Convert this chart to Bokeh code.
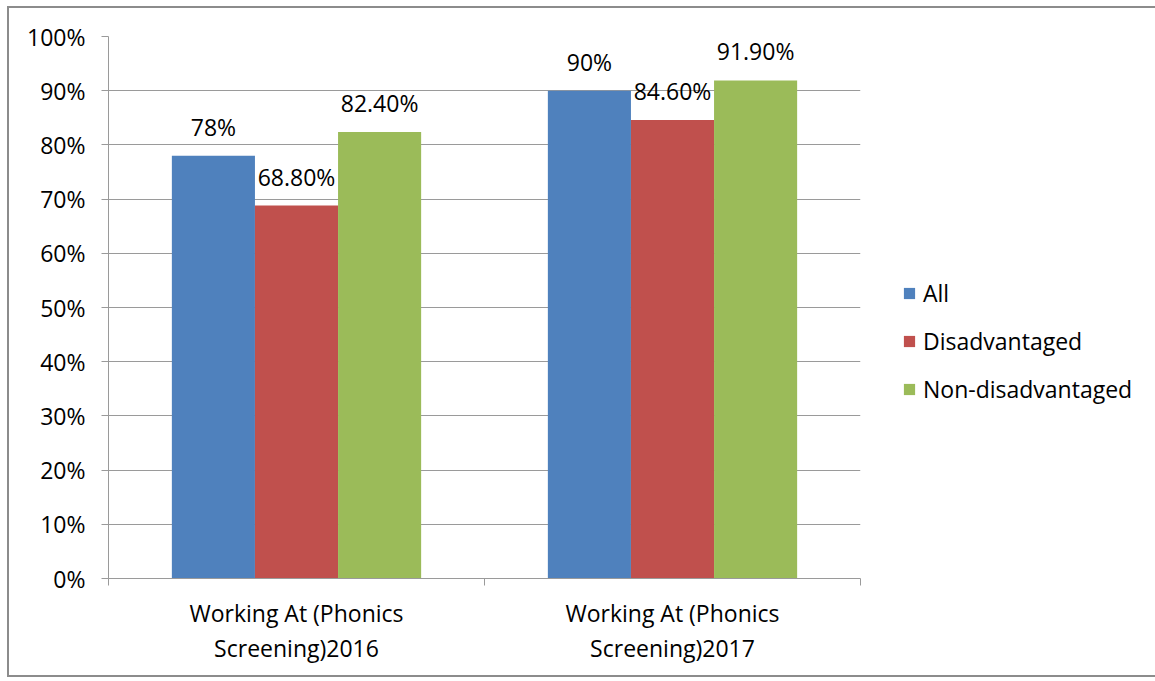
from bokeh.plotting import figure
from bokeh.models import ColumnDataSource, FixedTicker, Legend, LegendItem, Range1d, LinearAxis
from bokeh.core.properties import value
from bokeh.embed import file_html
from bokeh.resources import INLINE

categories = ["Working At (Phonics\nScreening)2016", "Working At (Phonics\nScreening)2017"]
series = ["All", "Disadvantaged", "Non-disadvantaged"]
all_vals = [78, 90]
dis_vals = [68.8, 84.6]
non_vals = [82.4, 91.9]
all_labels = ["78%", "90%"]
dis_labels = ["68.80%", "84.60%"]
non_labels = ["82.40%", "91.90%"]
colors = ["#4F81BD", "#C0504D", "#9BBB59"]
y_ticks = [0, 10, 20, 30, 40, 50, 60, 70, 80, 90, 100]

FONT = "Open Sans"
FS = "23px"
GRID = "#9a9a9a"

p = figure(frame_width=752, frame_height=542, output_backend="svg", toolbar_location=None,
           x_range=Range1d(0, 2), y_range=Range1d(0, 100),
           min_border_left=99, min_border_right=286, min_border_top=28, min_border_bottom=97)
p.styles = {"outline": "2px solid #8c8c8c", "outline-offset": "0px",
            "margin-left": "9px", "margin-top": "8px"}
p.outline_line_color = None
p.background_fill_color = "white"
p.border_fill_color = "white"

bar_w = 0.221
offsets = [-bar_w, 0.0, bar_w]
vals = [all_vals, dis_vals, non_vals]
labs = [all_labels, dis_labels, non_labels]
renderers = []
sources = []
for k in range(3):
    xs = [i + 0.5 + offsets[k] for i in range(len(categories))]
    src = ColumnDataSource(dict(x=xs, top=vals[k], lab=labs[k]))
    sources.append(src)
    r = p.vbar(x="x", top="top", width=bar_w, bottom=0, source=src,
               fill_color=colors[k], line_color=None)
    renderers.append(r)
for src in sources:
    p.text(x="x", y="top", text="lab", source=src, text_align="center",
           text_baseline="alphabetic", y_offset=-29, text_font=value(FONT),
           text_font_size=FS, text_color="black")

# y axis
yax = p.yaxis[0]
yax.ticker = FixedTicker(ticks=y_ticks)
yax.major_label_overrides = {t: f"{t}%" for t in y_ticks}
yax.major_label_text_font = FONT
yax.major_label_text_font_size = FS
yax.major_label_text_color = "black"
yax.major_tick_out = 7
yax.major_tick_in = 0
yax.minor_tick_out = 0
yax.minor_tick_in = 0
yax.axis_line_color = GRID
yax.major_tick_line_color = GRID
yax.major_label_standoff = 16

line1 = [c.split("\n")[0] for c in categories]
line2 = [c.split("\n")[1] for c in categories]

# x axis (first line of category labels)
xax = p.xaxis[0]
xax.ticker = FixedTicker(ticks=[0.5, 1.5], minor_ticks=[0, 1, 2])
xax.major_label_overrides = {0.5: line1[0], 1.5: line1[1]}
xax.major_label_text_font = FONT
xax.major_label_text_font_size = FS
xax.major_label_text_color = "black"
xax.major_tick_out = 0
xax.major_tick_in = 0
xax.minor_tick_out = 7
xax.minor_tick_in = 0
xax.minor_tick_line_color = GRID
xax.axis_line_color = GRID
xax.major_label_standoff = 11

# second line of category labels
xax2 = LinearAxis(ticker=FixedTicker(ticks=[0.5, 1.5], minor_ticks=[]),
                  major_label_overrides={0.5: line2[0], 1.5: line2[1]})
xax2.major_label_text_font = FONT
xax2.major_label_text_font_size = FS
xax2.major_label_text_color = "black"
xax2.axis_line_color = None
xax2.major_tick_line_color = None
xax2.minor_tick_line_color = None
xax2.major_tick_out = 0
xax2.major_tick_in = 0
xax2.minor_tick_out = 0
xax2.minor_tick_in = 0
xax2.major_label_standoff = 0
p.add_layout(xax2, "below")

p.xgrid.grid_line_color = None
p.ygrid.ticker = FixedTicker(ticks=y_ticks)
p.ygrid.grid_line_color = GRID

legend = Legend(items=[LegendItem(label=series[k], renderers=[renderers[k]]) for k in range(3)],
                location=(42, 173), orientation="vertical")
legend.label_text_font = FONT
legend.label_text_font_size = FS
legend.label_text_color = "black"
legend.glyph_width = 14
legend.glyph_height = 14
legend.label_standoff = 7
legend.spacing = 16
legend.border_line_color = None
legend.background_fill_alpha = 0
legend.margin = 0
legend.padding = 0
p.add_layout(legend, "right")

open("out.html", "w").write(file_html(p, INLINE))
